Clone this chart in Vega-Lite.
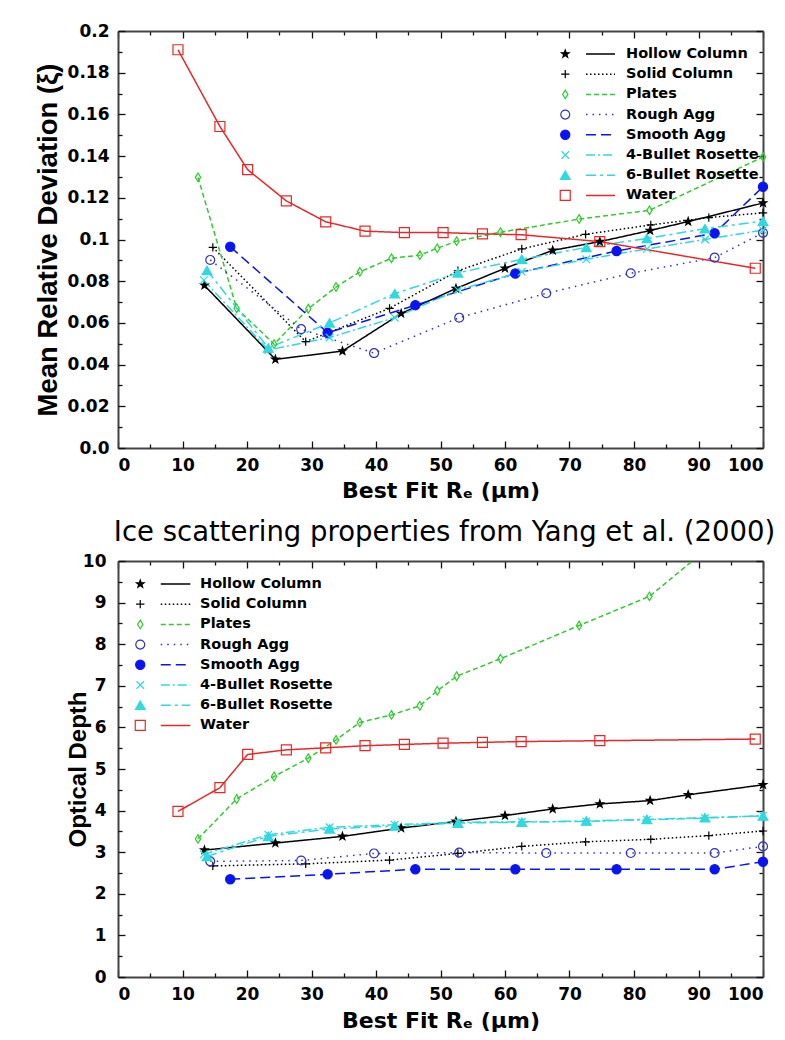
{
  "$schema": "https://vega.github.io/schema/vega-lite/v6.json",
  "background": "white",
  "padding": {"left": 34, "top": 22, "right": 2, "bottom": 2},
  "datasets": {
    "d": [
      {"s": "Hollow Column", "re": 13.4, "mrd": 0.0780, "tau": 3.05},
      {"s": "Hollow Column", "re": 24.4, "mrd": 0.0425, "tau": 3.22},
      {"s": "Hollow Column", "re": 34.8, "mrd": 0.0465, "tau": 3.38},
      {"s": "Hollow Column", "re": 43.9, "mrd": 0.0645, "tau": 3.58},
      {"s": "Hollow Column", "re": 52.4, "mrd": 0.0765, "tau": 3.74},
      {"s": "Hollow Column", "re": 60.0, "mrd": 0.0862, "tau": 3.88},
      {"s": "Hollow Column", "re": 67.4, "mrd": 0.0948, "tau": 4.04},
      {"s": "Hollow Column", "re": 74.7, "mrd": 0.0990, "tau": 4.16},
      {"s": "Hollow Column", "re": 82.5, "mrd": 0.1043, "tau": 4.24},
      {"s": "Hollow Column", "re": 88.4, "mrd": 0.1086, "tau": 4.38},
      {"s": "Hollow Column", "re": 100, "mrd": 0.1175, "tau": 4.62},
      {"s": "Solid Column", "re": 14.7, "mrd": 0.0962, "tau": 2.67},
      {"s": "Solid Column", "re": 29.1, "mrd": 0.0510, "tau": 2.72},
      {"s": "Solid Column", "re": 42.1, "mrd": 0.0670, "tau": 2.81},
      {"s": "Solid Column", "re": 52.7, "mrd": 0.0850, "tau": 2.97},
      {"s": "Solid Column", "re": 62.6, "mrd": 0.0955, "tau": 3.14},
      {"s": "Solid Column", "re": 72.5, "mrd": 0.1025, "tau": 3.25},
      {"s": "Solid Column", "re": 82.6, "mrd": 0.1070, "tau": 3.31},
      {"s": "Solid Column", "re": 91.6, "mrd": 0.1105, "tau": 3.40},
      {"s": "Solid Column", "re": 100, "mrd": 0.1128, "tau": 3.51},
      {"s": "Plates", "re": 12.4, "mrd": 0.1298, "tau": 3.32},
      {"s": "Plates", "re": 18.4, "mrd": 0.0670, "tau": 4.28},
      {"s": "Plates", "re": 24.2, "mrd": 0.0498, "tau": 4.82},
      {"s": "Plates", "re": 29.5, "mrd": 0.0668, "tau": 5.26},
      {"s": "Plates", "re": 33.8, "mrd": 0.0772, "tau": 5.70},
      {"s": "Plates", "re": 37.5, "mrd": 0.0845, "tau": 6.12},
      {"s": "Plates", "re": 42.4, "mrd": 0.0910, "tau": 6.30},
      {"s": "Plates", "re": 46.8, "mrd": 0.0925, "tau": 6.52},
      {"s": "Plates", "re": 49.5, "mrd": 0.0958, "tau": 6.88},
      {"s": "Plates", "re": 52.5, "mrd": 0.0992, "tau": 7.23},
      {"s": "Plates", "re": 59.3, "mrd": 0.1035, "tau": 7.65},
      {"s": "Plates", "re": 71.5, "mrd": 0.1098, "tau": 8.45},
      {"s": "Plates", "re": 82.4, "mrd": 0.1140, "tau": 9.15},
      {"s": "Plates", "re": 100, "mrd": 0.1396, "tau": 11.4},
      {"s": "Rough Agg", "re": 14.3, "mrd": 0.0902, "tau": 2.78},
      {"s": "Rough Agg", "re": 28.4, "mrd": 0.0570, "tau": 2.80},
      {"s": "Rough Agg", "re": 39.7, "mrd": 0.0455, "tau": 2.97},
      {"s": "Rough Agg", "re": 52.9, "mrd": 0.0625, "tau": 2.99},
      {"s": "Rough Agg", "re": 66.4, "mrd": 0.0742, "tau": 2.98},
      {"s": "Rough Agg", "re": 79.5, "mrd": 0.0838, "tau": 2.98},
      {"s": "Rough Agg", "re": 92.5, "mrd": 0.0913, "tau": 2.98},
      {"s": "Rough Agg", "re": 100, "mrd": 0.1032, "tau": 3.14},
      {"s": "Smooth Agg", "re": 17.4, "mrd": 0.0965, "tau": 2.35},
      {"s": "Smooth Agg", "re": 32.5, "mrd": 0.0553, "tau": 2.47},
      {"s": "Smooth Agg", "re": 46.1, "mrd": 0.0685, "tau": 2.59},
      {"s": "Smooth Agg", "re": 61.6, "mrd": 0.0837, "tau": 2.59},
      {"s": "Smooth Agg", "re": 77.3, "mrd": 0.0945, "tau": 2.59},
      {"s": "Smooth Agg", "re": 92.5, "mrd": 0.1030, "tau": 2.59},
      {"s": "Smooth Agg", "re": 100, "mrd": 0.1253, "tau": 2.77},
      {"s": "4-Bullet Rosette", "re": 13.3, "mrd": 0.0805, "tau": 2.95},
      {"s": "4-Bullet Rosette", "re": 23.3, "mrd": 0.0470, "tau": 3.42},
      {"s": "4-Bullet Rosette", "re": 32.8, "mrd": 0.0530, "tau": 3.60},
      {"s": "4-Bullet Rosette", "re": 42.9, "mrd": 0.0625, "tau": 3.66},
      {"s": "4-Bullet Rosette", "re": 52.7, "mrd": 0.0758, "tau": 3.72},
      {"s": "4-Bullet Rosette", "re": 62.6, "mrd": 0.0845, "tau": 3.73},
      {"s": "4-Bullet Rosette", "re": 72.6, "mrd": 0.0905, "tau": 3.74},
      {"s": "4-Bullet Rosette", "re": 82.0, "mrd": 0.0955, "tau": 3.78},
      {"s": "4-Bullet Rosette", "re": 91.0, "mrd": 0.1000, "tau": 3.82},
      {"s": "4-Bullet Rosette", "re": 100, "mrd": 0.1045, "tau": 3.88},
      {"s": "6-Bullet Rosette", "re": 13.8, "mrd": 0.0852, "tau": 2.90},
      {"s": "6-Bullet Rosette", "re": 23.3, "mrd": 0.0480, "tau": 3.38},
      {"s": "6-Bullet Rosette", "re": 32.8, "mrd": 0.0600, "tau": 3.56},
      {"s": "6-Bullet Rosette", "re": 42.9, "mrd": 0.0740, "tau": 3.63},
      {"s": "6-Bullet Rosette", "re": 52.7, "mrd": 0.0840, "tau": 3.70},
      {"s": "6-Bullet Rosette", "re": 62.6, "mrd": 0.0905, "tau": 3.72},
      {"s": "6-Bullet Rosette", "re": 72.6, "mrd": 0.0962, "tau": 3.75},
      {"s": "6-Bullet Rosette", "re": 82.0, "mrd": 0.1005, "tau": 3.79},
      {"s": "6-Bullet Rosette", "re": 91.0, "mrd": 0.1052, "tau": 3.83},
      {"s": "6-Bullet Rosette", "re": 100, "mrd": 0.1088, "tau": 3.87},
      {"s": "Water", "re": 9.3, "mrd": 0.1910, "tau": 3.98},
      {"s": "Water", "re": 15.8, "mrd": 0.1542, "tau": 4.55},
      {"s": "Water", "re": 20.1, "mrd": 0.1335, "tau": 5.35},
      {"s": "Water", "re": 26.1, "mrd": 0.1185, "tau": 5.46},
      {"s": "Water", "re": 32.2, "mrd": 0.1085, "tau": 5.51},
      {"s": "Water", "re": 38.3, "mrd": 0.1040, "tau": 5.56},
      {"s": "Water", "re": 44.4, "mrd": 0.1033, "tau": 5.59},
      {"s": "Water", "re": 50.4, "mrd": 0.1033, "tau": 5.62},
      {"s": "Water", "re": 56.5, "mrd": 0.1027, "tau": 5.64},
      {"s": "Water", "re": 62.5, "mrd": 0.1023, "tau": 5.66},
      {"s": "Water", "re": 74.7, "mrd": 0.0990, "tau": 5.68},
      {"s": "Water", "re": 98.8, "mrd": 0.0862, "tau": 5.72}
    ]
  },
  "data": {"name": "d"},
  "config": {
    "view": {"stroke": null},
    "axis": {
      "grid": false,
      "domainColor": "#444444",
      "domainWidth": 2,
      "tickColor": "#111111",
      "tickWidth": 1.3,
      "labelFont": "DejaVu Sans",
      "labelFontWeight": "bold",
      "labelFontSize": 17,
      "labelColor": "black",
      "titleColor": "black"
    },
    "legend": {
      "padding": 0,
      "titlePadding": 0
    }
  },
  "spacing": 113,
  "bounds": "flush",
  "vconcat": [
    {
      "width": 645,
      "height": 417,
      "layer": [
        {
          "mark": {"type": "line", "strokeWidth": 1.5},
          "encoding": {
            "x": {
              "field": "re", "type": "quantitative",
              "scale": {"domain": [0, 100], "nice": false},
              "axis": {
                "orient": "bottom", "values": [0, 10, 20, 30, 40, 50, 60, 70, 80, 90, 100],
                "ticks": false, "labelPadding": 9,
                "title": "Best Fit Rₑ (μm)", "titleFont": "DejaVu Sans", "titleFontSize": 22,
                "titleFontWeight": "bold", "titlePadding": 7
              }
            },
            "y": {
              "field": "mrd", "type": "quantitative",
              "scale": {"domain": [0, 0.2], "nice": false},
              "axis": {
                "orient": "left",
                "values": [0, 0.02, 0.04, 0.06, 0.08, 0.1, 0.12, 0.14, 0.16, 0.18, 0.2],
                "labelExpr": "datum.value == 0 ? '0.0' : format(datum.value, '.2~f')",
                "ticks": false, "labelPadding": 9,
                "title": "Mean Relative Deviation (ξ)", "titleFont": "Liberation Sans",
                "titleFontSize": 27.5, "titleFontWeight": "bold", "titlePadding": 5
              }
            },
            "stroke": {
              "field": "s", "type": "nominal",
              "scale": {
                "domain": ["Hollow Column", "Solid Column", "Plates", "Rough Agg", "Smooth Agg", "4-Bullet Rosette", "6-Bullet Rosette", "Water"],
                "range": ["#000000", "#000000", "#2ecc2e", "#3030c8", "#0a14f0", "#30d8e0", "#30d8e0", "#e82828"]
              },
              "legend": {
                "orient": "none", "legendX": 467, "legendY": 16, "title": null,
                "symbolType": "stroke", "symbolSize": 841, "symbolStrokeWidth": 1.5,
                "labelFont": "DejaVu Sans", "labelFontSize": 14.5, "labelFontWeight": "bold",
                "labelColor": "black", "labelOffset": 10, "rowPadding": 5.2, "clipHeight": 14
              }
            },
            "strokeDash": {
              "field": "s", "type": "nominal",
              "scale": {
                "domain": ["Hollow Column", "Solid Column", "Plates", "Rough Agg", "Smooth Agg", "4-Bullet Rosette", "6-Bullet Rosette", "Water"],
                "range": [[1, 0], [1.5, 2.5], [5, 3], [1.5, 5], [10, 5], [9, 3, 2, 3], [10, 4, 3, 4], [1, 0]]
              }
            }
          }
        },
        {
          "mark": {"type": "point", "filled": true, "opacity": 1, "strokeWidth": 1.2},
          "encoding": {
            "x": {
              "field": "re", "type": "quantitative",
              "scale": {"domain": [0, 100], "nice": false},
              "axis": {
                "orient": "top", "values": [0, 5, 10, 15, 20, 25, 30, 35, 40, 45, 50, 55, 60, 65, 70, 75, 80, 85, 90, 95, 100],
                "labels": false, "title": null,
                "tickSize": {"condition": {"test": "datum.value % 10 == 0", "value": -7}, "value": -4}
              }
            },
            "y": {
              "field": "mrd", "type": "quantitative",
              "scale": {"domain": [0, 0.2], "nice": false},
              "axis": {
                "orient": "right",
                "values": [0, 0.01, 0.02, 0.03, 0.04, 0.05, 0.06, 0.07, 0.08, 0.09, 0.1, 0.11, 0.12, 0.13, 0.14, 0.15, 0.16, 0.17, 0.18, 0.19, 0.2],
                "labels": false, "title": null,
                "tickSize": {"condition": {"test": "round(datum.value * 100) % 2 == 0", "value": -7}, "value": -4}
              }
            },
            "stroke": {
              "field": "s", "type": "nominal",
              "scale": {
                "domain": ["Hollow Column", "Solid Column", "Plates", "Rough Agg", "Smooth Agg", "4-Bullet Rosette", "6-Bullet Rosette", "Water"],
                "range": ["#000000", "#000000", "#2ecc2e", "#3030c8", "#0a14f0", "#30d8e0", "#30d8e0", "#e82828"]
              },
              "legend": {
                "orient": "none", "legendX": 440, "legendY": 16, "title": null,
                "labelExpr": "''", "labelFontSize": 14.5, "symbolStrokeWidth": 1.2,
                "rowPadding": 5.2, "clipHeight": 14
              }
            },
            "fill": {
              "field": "s", "type": "nominal",
              "scale": {
                "domain": ["Hollow Column", "Solid Column", "Plates", "Rough Agg", "Smooth Agg", "4-Bullet Rosette", "6-Bullet Rosette", "Water"],
                "range": ["#000000", "transparent", "transparent", "transparent", "#0a14f0", "transparent", "#30d8e0", "transparent"]
              }
            },
            "shape": {
              "field": "s", "type": "nominal",
              "scale": {
                "domain": ["Hollow Column", "Solid Column", "Plates", "Rough Agg", "Smooth Agg", "4-Bullet Rosette", "6-Bullet Rosette", "Water"],
                "range": [
                  "M0,-1L0.235,-0.324L0.951,-0.309L0.38,0.124L0.588,0.809L0,0.4L-0.588,0.809L-0.38,0.124L-0.951,-0.309L-0.235,-0.324Z",
                  "M-1,0L1,0M0,-1L0,1",
                  "M0,-1L0.62,0L0,1L-0.62,0Z",
                  "circle",
                  "circle",
                  "M-0.8,-0.8L0.8,0.8M-0.8,0.8L0.8,-0.8",
                  "triangle-up",
                  "square"
                ]
              }
            },
            "size": {
              "field": "s", "type": "nominal",
              "scale": {
                "domain": ["Hollow Column", "Solid Column", "Plates", "Rough Agg", "Smooth Agg", "4-Bullet Rosette", "6-Bullet Rosette", "Water"],
                "range": [64, 100, 200, 85, 64, 49, 60, 125]
              }
            }
          }
        },
        {
          "mark": {"type": "point", "opacity": 0},
          "encoding": {
            "x": {
              "field": "re", "type": "quantitative",
              "scale": {"domain": [0, 100], "nice": false},
              "axis": {
                "orient": "bottom", "values": [0, 5, 10, 15, 20, 25, 30, 35, 40, 45, 50, 55, 60, 65, 70, 75, 80, 85, 90, 95, 100],
                "labels": false, "title": null, "domain": false,
                "tickSize": {"condition": {"test": "datum.value % 10 == 0", "value": -7}, "value": -4}
              }
            },
            "y": {
              "field": "mrd", "type": "quantitative",
              "scale": {"domain": [0, 0.2], "nice": false},
              "axis": {
                "orient": "left",
                "values": [0, 0.01, 0.02, 0.03, 0.04, 0.05, 0.06, 0.07, 0.08, 0.09, 0.1, 0.11, 0.12, 0.13, 0.14, 0.15, 0.16, 0.17, 0.18, 0.19, 0.2],
                "labels": false, "title": null, "domain": false,
                "tickSize": {"condition": {"test": "round(datum.value * 100) % 2 == 0", "value": -7}, "value": -4}
              }
            }
          }
        }
      ],
      "resolve": {
        "axis": {"x": "independent", "y": "independent"},
        "legend": {"stroke": "independent", "fill": "independent", "shape": "independent", "size": "independent", "strokeDash": "independent"}
      }
    },
    {
      "width": 645,
      "height": 416,
      "title": {
        "text": "Ice scattering properties from Yang et al. (2000)",
        "font": "DejaVu Sans", "fontSize": 27.5, "fontWeight": "normal", "color": "black",
        "anchor": "middle", "offset": 14, "dx": 4, "dy": 60
      },
      "layer": [
        {
          "mark": {"type": "line", "strokeWidth": 1.5, "clip": true},
          "encoding": {
            "x": {
              "field": "re", "type": "quantitative",
              "scale": {"domain": [0, 100], "nice": false},
              "axis": {
                "orient": "bottom", "values": [0, 10, 20, 30, 40, 50, 60, 70, 80, 90, 100],
                "ticks": false, "labelPadding": 9,
                "title": "Best Fit Rₑ (μm)", "titleFont": "DejaVu Sans", "titleFontSize": 22,
                "titleFontWeight": "bold", "titlePadding": 8
              }
            },
            "y": {
              "field": "tau", "type": "quantitative",
              "scale": {"domain": [0, 10], "nice": false},
              "axis": {
                "orient": "left", "values": [0, 1, 2, 3, 4, 5, 6, 7, 8, 9, 10],
                "ticks": false, "labelPadding": 12,
                "title": "Optical Depth", "titleFont": "Liberation Sans",
                "titleFontSize": 24, "titleFontWeight": "bold", "titlePadding": -8
              }
            },
            "stroke": {
              "field": "s", "type": "nominal",
              "scale": {
                "domain": ["Hollow Column", "Solid Column", "Plates", "Rough Agg", "Smooth Agg", "4-Bullet Rosette", "6-Bullet Rosette", "Water"],
                "range": ["#000000", "#000000", "#2ecc2e", "#3030c8", "#0a14f0", "#30d8e0", "#30d8e0", "#e82828"]
              },
              "legend": {
                "orient": "none", "legendX": 42, "legendY": 16, "title": null,
                "symbolType": "stroke", "symbolSize": 870, "symbolStrokeWidth": 1.5,
                "labelFont": "DejaVu Sans", "labelFontSize": 14.5, "labelFontWeight": "bold",
                "labelColor": "black", "labelOffset": 9, "rowPadding": 5.2, "clipHeight": 14
              }
            },
            "strokeDash": {
              "field": "s", "type": "nominal",
              "scale": {
                "domain": ["Hollow Column", "Solid Column", "Plates", "Rough Agg", "Smooth Agg", "4-Bullet Rosette", "6-Bullet Rosette", "Water"],
                "range": [[1, 0], [1.5, 2.5], [5, 3], [1.5, 5], [10, 5], [9, 3, 2, 3], [10, 4, 3, 4], [1, 0]]
              }
            }
          }
        },
        {
          "transform": [{"filter": "datum.tau <= 10"}],
          "mark": {"type": "point", "filled": true, "opacity": 1, "strokeWidth": 1.2},
          "encoding": {
            "x": {
              "field": "re", "type": "quantitative",
              "scale": {"domain": [0, 100], "nice": false},
              "axis": {
                "orient": "top", "values": [0, 5, 10, 15, 20, 25, 30, 35, 40, 45, 50, 55, 60, 65, 70, 75, 80, 85, 90, 95, 100],
                "labels": false, "title": null,
                "tickSize": {"condition": {"test": "datum.value % 10 == 0", "value": -7}, "value": -4}
              }
            },
            "y": {
              "field": "tau", "type": "quantitative",
              "scale": {"domain": [0, 10], "nice": false},
              "axis": {
                "orient": "right",
                "values": [0, 0.5, 1, 1.5, 2, 2.5, 3, 3.5, 4, 4.5, 5, 5.5, 6, 6.5, 7, 7.5, 8, 8.5, 9, 9.5, 10],
                "labels": false, "title": null,
                "tickSize": {"condition": {"test": "datum.value % 1 == 0", "value": -7}, "value": -4}
              }
            },
            "stroke": {
              "field": "s", "type": "nominal",
              "scale": {
                "domain": ["Hollow Column", "Solid Column", "Plates", "Rough Agg", "Smooth Agg", "4-Bullet Rosette", "6-Bullet Rosette", "Water"],
                "range": ["#000000", "#000000", "#2ecc2e", "#3030c8", "#0a14f0", "#30d8e0", "#30d8e0", "#e82828"]
              },
              "legend": {
                "orient": "none", "legendX": 15, "legendY": 16, "title": null,
                "labelExpr": "''", "labelFontSize": 14.5, "symbolStrokeWidth": 1.2,
                "rowPadding": 5.2, "clipHeight": 14
              }
            },
            "fill": {
              "field": "s", "type": "nominal",
              "scale": {
                "domain": ["Hollow Column", "Solid Column", "Plates", "Rough Agg", "Smooth Agg", "4-Bullet Rosette", "6-Bullet Rosette", "Water"],
                "range": ["#000000", "transparent", "transparent", "transparent", "#0a14f0", "transparent", "#30d8e0", "transparent"]
              }
            },
            "shape": {
              "field": "s", "type": "nominal",
              "scale": {
                "domain": ["Hollow Column", "Solid Column", "Plates", "Rough Agg", "Smooth Agg", "4-Bullet Rosette", "6-Bullet Rosette", "Water"],
                "range": [
                  "M0,-1L0.235,-0.324L0.951,-0.309L0.38,0.124L0.588,0.809L0,0.4L-0.588,0.809L-0.38,0.124L-0.951,-0.309L-0.235,-0.324Z",
                  "M-1,0L1,0M0,-1L0,1",
                  "M0,-1L0.62,0L0,1L-0.62,0Z",
                  "circle",
                  "circle",
                  "M-0.8,-0.8L0.8,0.8M-0.8,0.8L0.8,-0.8",
                  "triangle-up",
                  "square"
                ]
              }
            },
            "size": {
              "field": "s", "type": "nominal",
              "scale": {
                "domain": ["Hollow Column", "Solid Column", "Plates", "Rough Agg", "Smooth Agg", "4-Bullet Rosette", "6-Bullet Rosette", "Water"],
                "range": [64, 100, 200, 85, 64, 49, 60, 125]
              }
            }
          }
        },
        {
          "mark": {"type": "point", "opacity": 0},
          "encoding": {
            "x": {
              "field": "re", "type": "quantitative",
              "scale": {"domain": [0, 100], "nice": false},
              "axis": {
                "orient": "bottom", "values": [0, 5, 10, 15, 20, 25, 30, 35, 40, 45, 50, 55, 60, 65, 70, 75, 80, 85, 90, 95, 100],
                "labels": false, "title": null, "domain": false,
                "tickSize": {"condition": {"test": "datum.value % 10 == 0", "value": -7}, "value": -4}
              }
            },
            "y": {
              "field": "tau", "type": "quantitative",
              "scale": {"domain": [0, 10], "nice": false},
              "axis": {
                "orient": "left",
                "values": [0, 0.5, 1, 1.5, 2, 2.5, 3, 3.5, 4, 4.5, 5, 5.5, 6, 6.5, 7, 7.5, 8, 8.5, 9, 9.5, 10],
                "labels": false, "title": null, "domain": false,
                "tickSize": {"condition": {"test": "datum.value % 1 == 0", "value": -7}, "value": -4}
              }
            }
          }
        }
      ],
      "resolve": {
        "axis": {"x": "independent", "y": "independent"},
        "legend": {"stroke": "independent", "fill": "independent", "shape": "independent", "size": "independent", "strokeDash": "independent"}
      }
    }
  ]
}
